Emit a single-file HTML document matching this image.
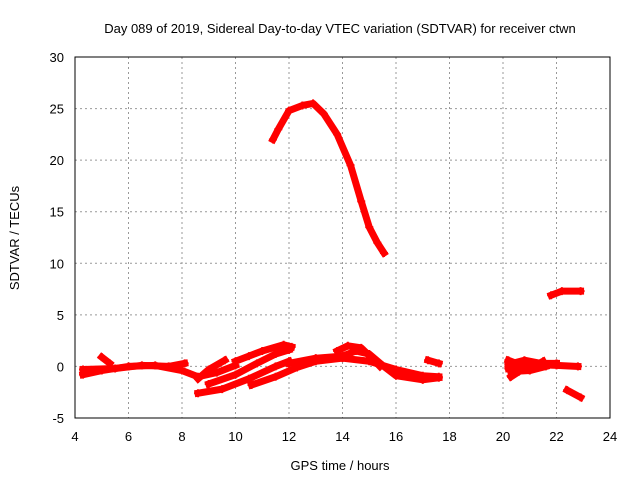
<!DOCTYPE html>
<html><head><meta charset="utf-8"><style>
body{margin:0;background:#fff}
svg{display:block;font-family:"Liberation Sans",sans-serif}
</style></head><body>
<svg id="chart" width="640" height="480">
<text x="340" y="33" font-size="13" text-anchor="middle">Day 089 of 2019, Sidereal Day-to-day VTEC variation (SDTVAR) for receiver ctwn</text>
<text x="340" y="470" font-size="13" text-anchor="middle">GPS time / hours</text>
<text transform="translate(19,238) rotate(-90)" font-size="13" text-anchor="middle">SDTVAR / TECUs</text>
<g id="grid"></g><g id="ticks"></g><g id="series"></g>
<rect x="75" y="57" width="535" height="361" fill="none" stroke="#000"/>
</svg>
<script>
const xTicks=[4,6,8,10,12,14,16,18,20,22,24];
const yTicks=[-5,0,5,10,15,20,25,30];
const tArc=[[11.4,22],[11.6,23],[12,24.8],[12.5,25.3],[12.9,25.5],[13.3,24.5],[13.8,22.5],[14.3,19.5],[14.7,16],[15,13.5],[15.3,12],[15.55,11]];
const tB=[[4.3,-0.8],[5,-0.4],[6,0],[7,0.1],[8,-0.4],[8.6,-1.0],[9.3,-0.6],[10,0.1]];
const tB2=[[4.3,-0.3],[5.5,-0.2],[6.5,0.1],[7.5,0],[8.1,0.3]];
const tC=[[5,0.9],[5.3,0.3]];
const tD=[[8.6,-1.2],[9,-0.3],[9.6,0.6]];
const tE=[[8.6,-2.6],[9.5,-2.2],[10.5,-1.2],[11.5,0],[12,0.5]];
const tF=[[9,-1.7],[10,-0.8],[10.8,0.3],[11.5,1.2],[12,1.6]];
const tG=[[10,0.5],[10.5,1.0],[11,1.5],[11.8,2.1],[12.1,1.9]];
const tH=[[10.6,-1.8],[11.5,-1],[12.3,-0.1],[13,0.5],[14,0.8],[15,0.5],[16,-0.3],[17,-0.9],[17.6,-1.0]];
const tI=[[12,0.3],[13,0.8],[14,1],[14.5,1.5],[15,1.2],[15.5,0.1],[16,-0.9],[17,-1.3],[17.6,-1.1]];
const tJ=[[13.8,1.5],[14.2,2],[14.7,1.8],[15.1,0.8],[15.4,0]];
const tK=[[17.2,0.6],[17.6,0.3]];
const tL=[[20.2,-0.2],[21,0.2],[22,0.1],[22.8,0]];
const tL2=[[20.2,0.6],[21,-0.2],[21.5,0.5]];
const tL3=[[20.3,-1],[20.6,-0.5]];
const tL4=[[20.2,0.2],[20.8,0.6],[21.4,0.3],[22,0.3]];
const tL5=[[20.3,-0.5],[21,-0.4],[21.6,0]];
const tM=[[21.8,6.9],[22.2,7.3],[22.9,7.3]];
const tN=[[22.4,-2.3],[22.9,-3.0]];
const tracks=[tArc,tB,tB2,tC,tD,tE,tF,tG,tH,tI,tJ,tK,tL,tL2,tL3,tL4,tL5,tM,tN];
const NS="http://www.w3.org/2000/svg";
const X=v=>75+(v-4)*535/20, Y=v=>418-(v+5)*361/35;
const grid=document.getElementById('grid'),ticks=document.getElementById('ticks'),ser=document.getElementById('series');
function mk(t,a,p){const e=document.createElementNS(NS,t);for(const k in a)e.setAttribute(k,a[k]);p.appendChild(e);return e;}
xTicks.forEach(v=>{
 if(v>4&&v<24){const g=mk('line',{x1:X(v),x2:X(v),y1:57,y2:418,stroke:'#999','stroke-dasharray':'2,3'},grid);
 
 }
 const t=mk('text',{x:X(v),y:441,'font-size':13,'text-anchor':'middle'},ticks);t.textContent=v;
 
 
});
yTicks.forEach(v=>{
 if(v>-5&&v<30){const g=mk('line',{x1:75,x2:610,y1:Y(v),y2:Y(v),stroke:'#999','stroke-dasharray':'2,3'},grid);
 
 }
 const t=mk('text',{x:64,y:Y(v)+5,'font-size':13,'text-anchor':'end'},ticks);t.textContent=v;
 
 
});
tracks.forEach(tr=>{
 const p=mk('polyline',{points:tr.map(d=>X(d[0])+','+Y(d[1])).join(' '),fill:'none',stroke:'#f00','stroke-width':7,'stroke-linejoin':'round','stroke-linecap':'square'},ser);
 
 
 tr.forEach(d=>{const m=mk('path',{d:`M${X(d[0])-4},${Y(d[1])}h8M${X(d[0])},${Y(d[1])-4}v8`,stroke:'#f00','stroke-width':2},ser);
 
 });
});
</script>
</body></html>
